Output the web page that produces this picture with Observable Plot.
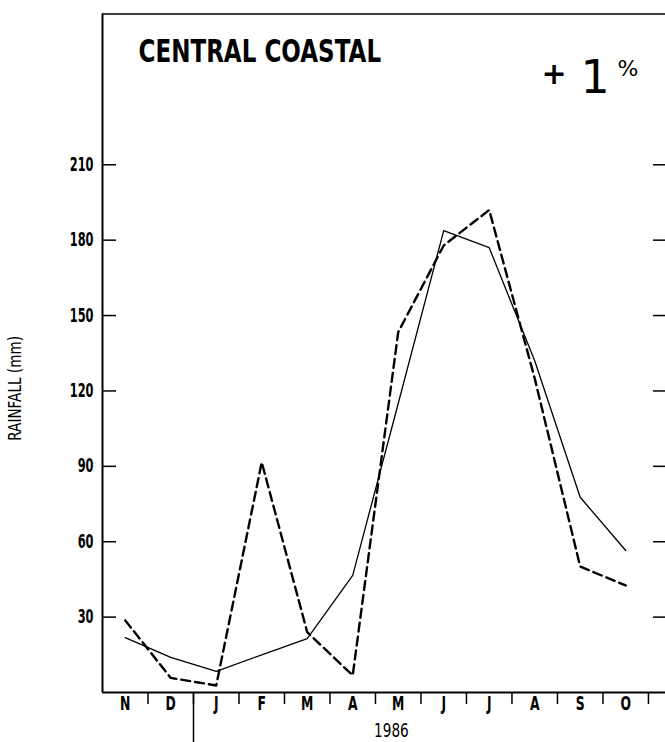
<!DOCTYPE html>
<html>
<head>
<meta charset="utf-8">
<script src="https://cdn.jsdelivr.net/npm/d3@7"></script>
<script src="https://cdn.jsdelivr.net/npm/@observablehq/plot@0.6"></script>
<style>
  html, body { margin: 0; padding: 0; background: #fff; }
  svg { display: block; }
</style>
</head>
<body>
<div id="chart"></div>
<script>
const months = ["N", "D", "J", "F", "M", "A", "M", "J", "J", "A", "S", "O"];
const meanRain = [21.8, 14, 8.4, 15, 21.4, 46.6, 115, 183.8, 177, 132, 77.7, 56.5];
const rain1986 = [28.7, 5.8, 2.8, 91.6, 24, 6.8, 143.4, 177.9, 192, 125, 50.1, 42.6];
const yTicks = [30, 60, 90, 120, 150, 180, 210];
const monthBounds = [1, 2, 3, 4, 5, 6, 7, 8, 9, 10, 11, 12];
const yearBoundary = [2];
const title = "CENTRAL COASTAL";
const yLabel = "RAINFALL (mm)";
const yearLabel = "1986";
const changeSign = "+";
const changeValue = "1";
const changeUnit = "%";

const font = "'DejaVu Sans', sans-serif";
const idx = (d, i) => i + 0.5;

const chart = Plot.plot({
  width: 665,
  height: 742,
  marginLeft: 102,
  marginRight: 0,
  marginTop: 13.5,
  marginBottom: 50,
  style: { fontFamily: font, color: "black", background: "white", overflow: "visible" },
  x: { type: "linear", domain: [0, 12.375], axis: null },
  y: { domain: [0, 270], axis: null },
  marks: [
    Plot.ruleY([270], { stroke: "black", strokeWidth: 1.5 }),
    Plot.ruleY([0], { stroke: "black", strokeWidth: 2 }),
    Plot.ruleX([0], { stroke: "black", strokeWidth: 2 }),
    Plot.tickY(yTicks, { y: d => d, stroke: "black", strokeWidth: 1.5, insetRight: 549 }),
    Plot.tickY(yTicks, { y: d => d, stroke: "black", strokeWidth: 1.5, insetLeft: 551 }),
    Plot.axisY({ ticks: yTicks, tickSize: 0, tickPadding: 9, fontSize: 19, fontWeight: "bold", fontFamily: font }),
    Plot.axisX({ ticks: monthBounds, tickSize: 12, tickFormat: () => "", stroke: "black", strokeWidth: 1.5 }),
    Plot.axisX({ ticks: yearBoundary, tickSize: 52, tickFormat: () => "", stroke: "black", strokeWidth: 1.5 }),
    Plot.text(months, { x: idx, frameAnchor: "bottom", dy: 17, text: d => d, fontSize: 20, fontWeight: "bold", fontFamily: font }),
    Plot.text([yearLabel], { x: [6.35], frameAnchor: "bottom", dy: 44, text: d => d, fontSize: 20, fontFamily: font }),
    Plot.text([yLabel], { x: [0], y: [121], dx: -87, rotate: -90, text: d => d, fontSize: 17, fontFamily: font }),
    Plot.text([title], { frameAnchor: "top-left", dx: 36, dy: 25, textAnchor: "start", text: d => d, fontSize: 32, fontWeight: "bold", fontFamily: font }),
    Plot.text([changeSign], { frameAnchor: "top-left", dx: 439, dy: 49, text: d => d, fontSize: 30, fontWeight: "bold", fontFamily: font }),
    Plot.text([changeValue], { frameAnchor: "top-left", dx: 478, dy: 46, text: d => d, fontSize: 46, fontFamily: font }),
    Plot.text([changeUnit], { frameAnchor: "top-left", dx: 515, dy: 46, text: d => d, fontSize: 22, fontFamily: font }),
    Plot.line(meanRain, { x: idx, y: d => d, stroke: "black", strokeWidth: 1.3 }),
    Plot.line(rain1986, { x: idx, y: d => d, stroke: "black", strokeWidth: 2.4, strokeDasharray: "9,5" })
  ]
});

// horizontally condense the glyphs to mimic the narrow typeface of the original
const squeeze = t => {
  if (t === title) return 0.72;
  if (t === yLabel) return 0.8;
  if (t === yearLabel) return 0.68;
  if (months.includes(t)) return 0.62;
  if (yTicks.map(String).includes(t)) return 0.6;
  return 1;
};
chart.querySelectorAll("text").forEach(el => {
  const f = squeeze(el.textContent.trim());
  if (f === 1) return;
  const tr = el.getAttribute("transform") || "";
  el.setAttribute("transform", (tr + ` scale(${f},1)`).trim());
});
document.getElementById("chart").appendChild(chart);
</script>
</body>
</html>
